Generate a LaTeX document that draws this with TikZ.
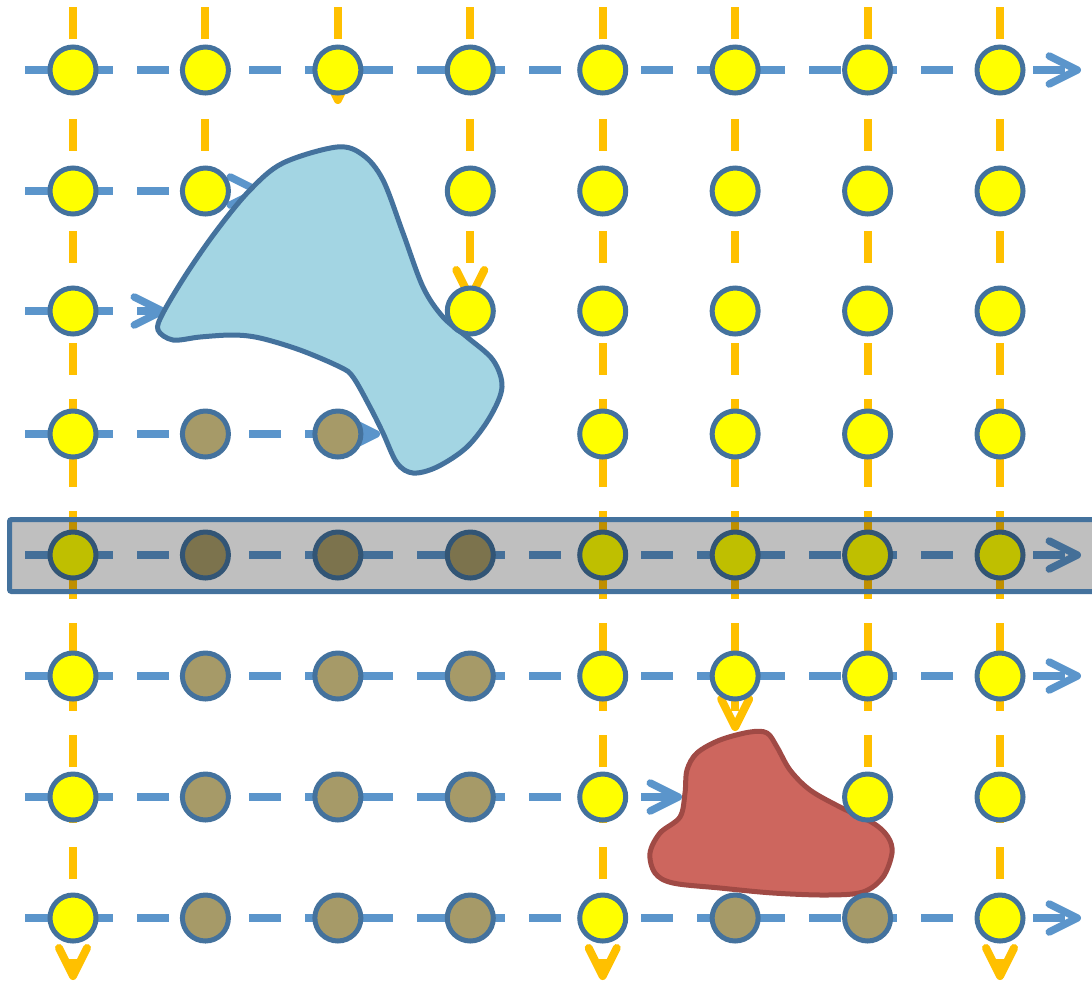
\documentclass[tikz,border=0pt]{standalone}
\usepackage{xcolor}
\usepackage{tikz}
\usetikzlibrary{arrows.meta}
\definecolor{hblue}{HTML}{5B95CB}
\definecolor{vorange}{HTML}{FFC000}
\definecolor{rim}{HTML}{44729D}
\definecolor{doty}{HTML}{FFFF00}
\definecolor{dotb}{HTML}{A69A68}
\definecolor{lakefill}{HTML}{A3D5E3}
\definecolor{rockfill}{HTML}{CD665E}
\definecolor{rockrim}{HTML}{A04A45}
\tikzset{
  dot/.style={circle,draw=rim,line width=2.5pt,minimum size=23pt,inner sep=0pt},
  hl/.style={draw=hblue,line width=3.75pt,dash pattern=on 16pt off 12pt,-{Straight Barb[length=14pt,width=14pt,round]}},
  vl/.style={draw=vorange,line width=4pt,dash pattern=on 16pt off 12pt,-{Straight Barb[length=14pt,width=14pt,round]}},
  lake/.style={draw=rim,fill=lakefill,line width=2.5pt},
  rock/.style={draw=rockrim,fill=rockfill,line width=2.5pt},
  band/.style={draw=rim,line width=2.5pt,fill=black,fill opacity=0.25,rounded corners=1pt},
}

\begin{document}
\begin{tikzpicture}[x=0.5pt,y=-0.5pt]
  \useasboundingbox (0,0) rectangle (1092,982);
  \foreach \c/\e in {1/980,2/208,3/104,4/302,5/980,6/731,7/870,8/980}
    \draw[vl] ({73+(\c-1)*132.43},7) -- ({73+(\c-1)*132.43},\e);
  \foreach \y/\e in {70/1081,191/262,311/166,434/380,555/1081,676/1081,797/682,918/1081}
    \draw[hl] (25,\y) -- (\e,\y);
  \draw[lake] plot[smooth cycle,tension=0.55] coordinates {(337,147) (363,155) (383,180) (403,233) (423,287) (443,317) (467,337) (493,360) (502,387) (490,417) (467,447) (437,467) (413,473) (397,463) (383,433) (370,407) (353,377) (340,367) (300,350) (260,338) (233,335) (200,337) (173,340) (158,330) (163,313) (187,273) (217,230) (250,190) (283,163)};
  \draw[rock] plot[smooth cycle,tension=0.55] coordinates {(767,733) (777,747) (790,770) (810,790) (840,807) (873,823) (888,837) (892,853) (883,877) (863,892) (827,895) (773,893) (720,888) (673,883) (655,873) (650,853) (660,833) (680,817) (685,793) (687,770) (697,753) (720,740) (750,732)};
  \foreach \r/\y/\cl in {1/70/{y,y,y,y,y,y,y,y},2/191/{y,y,n,y,y,y,y,y},3/311/{y,n,n,y,y,y,y,y},4/434/{y,b,b,n,y,y,y,y},5/555/{y,b,b,b,y,y,y,y},6/676/{y,b,b,b,y,y,y,y},7/797/{y,b,b,b,y,n,y,y},8/918/{y,b,b,b,y,b,b,y}}
    \foreach \k [count=\c] in \cl {
      \if\k n\else
        \node[dot,fill=dot\k] (c\r-\c) at ({73+(\c-1)*132.43},\y) {};
      \fi
    };
  \draw[band] (9.5,519.5) rectangle (1120,591.5);
\end{tikzpicture}
\end{document}
